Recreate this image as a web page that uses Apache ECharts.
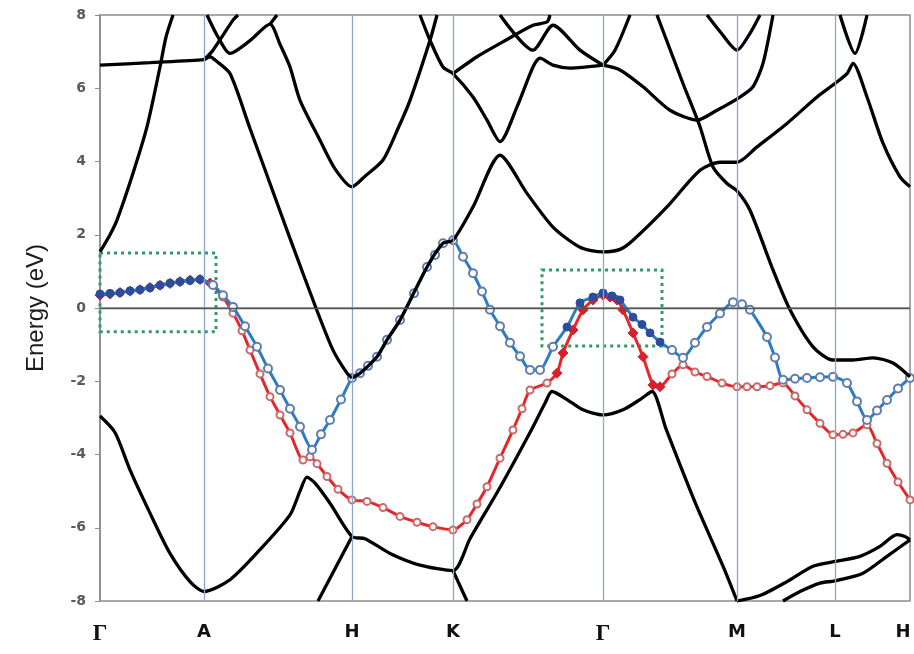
<!DOCTYPE html>
<html>
<head>
<meta charset="utf-8">
<script src="https://cdn.jsdelivr.net/npm/echarts@6/dist/echarts.min.js"></script>
<style>
  html, body { margin: 0; padding: 0; background: #fff; }
  #chart { width: 914px; height: 654px; }
</style>
</head>
<body>
<div id="chart"></div>
<script>
// k-path positions (x) and labels
var kTicks = [0, 104, 252, 353, 503, 637, 735, 810];
var kLabels = ['Γ', 'A', 'H', 'K', 'Γ', 'M', 'L', 'H'];
var energyTicks = [-8, -6, -4, -2, 0, 2, 4, 6, 8];

// black bands, [k, E(eV)]
var bandLow1 = [[0,-2.95],[15,-3.4],[30,-4.42],[50,-5.6],[70,-6.7],[90,-7.47],[104,-7.74],[130,-7.42],[160,-6.6],[190,-5.65],[200,-5.0],[207,-4.62],[215,-4.78],[230,-5.33],[252,-6.24],[265,-6.3],[290,-6.7],[320,-7.02],[353,-7.17],[370,-6.3],[400,-4.9],[430,-3.4],[445,-2.6],[452,-2.28],[467,-2.5],[483,-2.78],[503,-2.92],[523,-2.78],[540,-2.5],[552,-2.28],[566,-3.3],[595,-5.3],[623,-7.05],[637,-8]];
var bandLow2 = [[218,-8],[252,-6.24]];
var bandLow3 = [[353,-7.17],[367,-8]];
var bandLow4 = [[637,-8],[660,-7.85],[687,-7.47],[713,-7.05],[735,-6.92],[760,-6.78],[780,-6.51],[797,-6.19],[805,-6.24],[810,-6.33]];
var bandLow5 = [[683,-8],[700,-7.74],[720,-7.51],[735,-7.45],[763,-7.24],[787,-6.78],[810,-6.33]];
var bandUp1 = [[0,1.54],[3,1.67],[10,2.0],[17,2.4],[33,3.68],[47,4.95],[60,6.58],[66,7.4],[73,8]];
var bandUp2 = [[0,6.63],[50,6.7],[104,6.78],[110,6.86],[116,6.75],[130,6.4],[150,4.9],[170,3.4],[190,1.9],[216,0],[233,-1.15],[247,-1.78],[252,-1.91]];
var bandUp3 = [[104,6.78],[113,7.04],[133,7.86],[138,8]];
var bandUp4 = [[107,8],[118,7.4],[130,6.95],[150,7.3],[170,7.75],[180,7.2],[190,6.58],[200,5.67],[220,4.58],[235,3.8],[252,3.31],[265,3.6],[283,4.04],[298,4.9],[310,5.67],[330,7.31],[337,8]];
var bandUp5 = [[170,7.75],[177,8]];
var bandUp6 = [[320,8],[330,7.31],[343,6.58],[353,6.4],[373,5.76],[387,5.13],[400,4.54],[417,5.49],[433,6.58],[440,6.82],[453,6.63],[470,6.55],[503,6.63]];
var bandUp7 = [[353,6.4],[377,6.86],[407,7.33],[433,7.72],[447,7.81],[450,8]];
var bandUp8 = [[400,8],[433,7.04],[453,7.72],[480,7.04],[503,6.63]];
var bandMid = [[252,-1.91],[260,-1.78],[277,-1.33],[287,-0.87],[300,-0.33],[327,1.12],[343,1.77],[353,1.85],[373,2.76],[400,4.17],[427,3.13],[453,2.21],[480,1.66],[503,1.53],[520,1.6],[533,1.85],[567,2.76],[600,3.76],[620,3.98],[637,3.98],[657,4.4],[687,5.04],[717,5.76],[735,6.13],[747,6.4],[753,6.68],[767,5.76],[783,4.5],[800,3.58],[810,3.31]];
var bandUp9 = [[503,6.63],[515,7.04],[530,8]];
var bandUp10 = [[503,6.63],[520,6.5],[543,6.04],[570,5.4],[597,5.13],[617,5.4],[640,5.76],[653,6.04],[663,6.68],[673,8]];
var bandUp11 = [[557,8],[583,6.13],[600,4.95],[613,3.85],[627,3.4],[637,3.2],[650,2.67],[673,1.04],[690,-0.05],[713,-1.06],[733,-1.42],[753,-1.42],[773,-1.36],[793,-1.5],[810,-1.88]];
var bandUp12 = [[607,8],[620,7.55],[637,7.04],[650,7.5],[660,8]];
var bandUp13 = [[740,8],[755,6.95],[767,8]];

// highlighted bands
var redBand = [[0,0.35],[10,0.38],[20,0.42],[30,0.46],[40,0.5],[50,0.56],[60,0.62],[70,0.67],[80,0.72],[90,0.76],[100,0.78],[110,0.68],[123,0.3],[133,-0.14],[142,-0.62],[150,-1.15],[160,-1.8],[170,-2.42],[180,-2.92],[190,-3.41],[203,-4.15],[210,-4.06],[217,-4.25],[227,-4.6],[238,-4.95],[252,-5.24],[267,-5.28],[283,-5.45],[300,-5.69],[317,-5.85],[333,-5.97],[353,-6.06],[367,-5.78],[377,-5.35],[387,-4.88],[400,-4.1],[413,-3.33],[422,-2.75],[430,-2.24],[447,-2.05],[457,-1.78],[463,-1.23],[473,-0.6],[483,-0.05],[493,0.22],[503,0.35],[510,0.3],[517,0.22],[523,-0.05],[533,-0.68],[543,-1.33],[553,-2.1],[560,-2.15],[572,-1.8],[583,-1.55],[595,-1.75],[607,-1.87],[622,-2.05],[637,-2.15],[647,-2.15],[657,-2.15],[670,-2.12],[683,-2.05],[695,-2.4],[707,-2.78],[720,-3.15],[733,-3.46],[743,-3.45],[753,-3.41],[767,-3.19],[777,-3.7],[787,-4.24],[798,-4.75],[810,-5.24]];
var blueBand = [[0,0.38],[10,0.4],[20,0.42],[30,0.47],[40,0.5],[50,0.55],[60,0.62],[70,0.68],[80,0.72],[90,0.75],[100,0.78],[113,0.63],[123,0.35],[133,0.03],[145,-0.5],[157,-1.06],[168,-1.65],[180,-2.24],[190,-2.75],[200,-3.24],[212,-3.87],[221,-3.45],[230,-3.06],[241,-2.5],[252,-1.91],[260,-1.78],[268,-1.58],[277,-1.33],[287,-0.87],[300,-0.33],[314,0.4],[327,1.12],[335,1.45],[343,1.77],[353,1.85],[363,1.4],[373,0.95],[382,0.45],[390,-0.05],[400,-0.5],[410,-0.95],[420,-1.32],[430,-1.69],[440,-1.69],[453,-1.06],[467,-0.52],[480,0.14],[493,0.3],[503,0.41],[512,0.33],[520,0.22],[533,-0.25],[542,-0.45],[550,-0.68],[560,-0.93],[572,-1.15],[583,-1.36],[595,-0.95],[607,-0.52],[620,-0.15],[633,0.16],[642,0.1],[650,-0.05],[667,-0.79],[675,-1.35],[683,-1.96],[695,-1.93],[707,-1.91],[720,-1.89],[733,-1.88],[747,-2.05],[757,-2.55],[767,-3.06],[777,-2.8],[787,-2.51],[798,-2.2],[810,-1.91]];

// dotted boxes: [k0, E0, k1, E1]
var boxGA = [0, 1.5, 116, -0.65];
var boxG = [442, 1.04, 562, -1.04];

function inFilled(k) {
  return k <= 112 || (k >= 455 && k <= 565);
}

function colouredPoints(points, filled, open) {
  return points.map(function (p) {
    if (inFilled(p[0])) {
      return { value: p, symbol: filled.symbol, symbolSize: filled.size,
        itemStyle: { color: filled.color, borderColor: filled.color, borderWidth: 1 } };
    }
    return { value: p, symbol: 'emptyCircle', symbolSize: open.size,
      itemStyle: { color: open.color, borderColor: open.color, borderWidth: 1.4 } };
  });
}

var blackBands = [bandLow1, bandLow2, bandLow3, bandLow4, bandLow5, bandUp1, bandUp2, bandUp3,
  bandUp4, bandUp5, bandUp6, bandUp7, bandUp8, bandMid, bandUp9, bandUp10, bandUp11, bandUp12, bandUp13];

var series = [];

series.push({
  type: 'line',
  data: colouredPoints(redBand, { symbol: 'diamond', size: 10, color: '#d8202c' }, { size: 7, color: '#c96a6a' }),
  smooth: 0.2,
  lineStyle: { color: '#e5262b', width: 3 },
  z: 2
});
series.push({
  type: 'line',
  data: colouredPoints(blueBand, { symbol: 'circle', size: 8, color: '#2c4c9c' }, { size: 8, color: '#5f7eac' }),
  smooth: 0.2,
  lineStyle: { color: '#2b7cc2', width: 3 },
  z: 3
});

blackBands.forEach(function (b, i) {
  var s = {
    type: 'line',
    data: b,
    smooth: 0.25,
    showSymbol: false,
    lineStyle: { color: '#000', width: 3.3 },
    z: 4
  };
  if (i === 0) {
    s.markLine = {
      silent: true,
      symbol: 'none',
      label: { show: false },
      data: kTicks.slice(1, kTicks.length - 1).map(function (k) {
        return { xAxis: k, lineStyle: { color: '#8fa5c9', width: 1.3, type: 'solid' } };
      }).concat([{ yAxis: 0, lineStyle: { color: '#555', width: 1.3, type: 'solid' } }])
    };
    s.markArea = {
      silent: true,
      itemStyle: { color: 'rgba(0,0,0,0)', borderColor: '#2f9a68', borderWidth: 3, borderType: [3, 4] },
      data: [
        [{ coord: [boxGA[0], boxGA[1]] }, { coord: [boxGA[2], boxGA[3]] }],
        [{ coord: [boxG[0], boxG[1]] }, { coord: [boxG[2], boxG[3]] }]
      ]
    };
  }
  series.push(s);
});

var chart = echarts.init(document.getElementById('chart'));
chart.setOption({
  animation: false,
  backgroundColor: '#fff',
  grid: { left: 100, right: 4, top: 15, bottom: 53, show: true, borderColor: '#8c8c8c', borderWidth: 1.5 },
  xAxis: {
    type: 'value',
    min: 0,
    max: 810,
    splitLine: { show: false },
    axisLine: { lineStyle: { color: '#8c8c8c', width: 1.5 } },
    axisTick: { show: true, length: 4, customValues: kTicks, lineStyle: { color: '#8fa5c9' } },
    axisLabel: {
      customValues: kTicks,
      margin: 22,
      fontFamily: 'DejaVu Sans',
      fontWeight: 'bold',
      fontSize: 18,
      color: '#111',
      formatter: function (v) {
        var i = kTicks.indexOf(v);
        var t = kLabels[i];
        if (t === 'Γ') return '{g|Γ}';
        if (i === kTicks.length - 1) return '{e|' + t + '}';
        return t;
      },
      rich: {
        g: { fontFamily: 'Liberation Serif', fontWeight: 'bold', fontSize: 23, color: '#111' },
        e: { fontFamily: 'DejaVu Sans', fontWeight: 'bold', fontSize: 18, color: '#111', padding: [0, 14, 0, 0] }
      }
    }
  },
  yAxis: {
    type: 'value',
    min: -8,
    max: 8,
    interval: 2,
    name: 'Energy (eV)',
    nameLocation: 'middle',
    nameGap: 52,
    nameTextStyle: { fontFamily: 'Liberation Sans', fontSize: 24, color: '#1a1a1a' },
    splitLine: { show: false },
    axisLine: { show: true, lineStyle: { color: '#8c8c8c', width: 1.5 } },
    axisTick: { show: true, length: 5, lineStyle: { color: '#8c8c8c' } },
    axisLabel: {
      margin: 14,
      fontFamily: 'DejaVu Sans',
      fontWeight: 'bold',
      fontSize: 14,
      color: '#5a5a5a'
    }
  },
  series: series
});
</script>
</body>
</html>
